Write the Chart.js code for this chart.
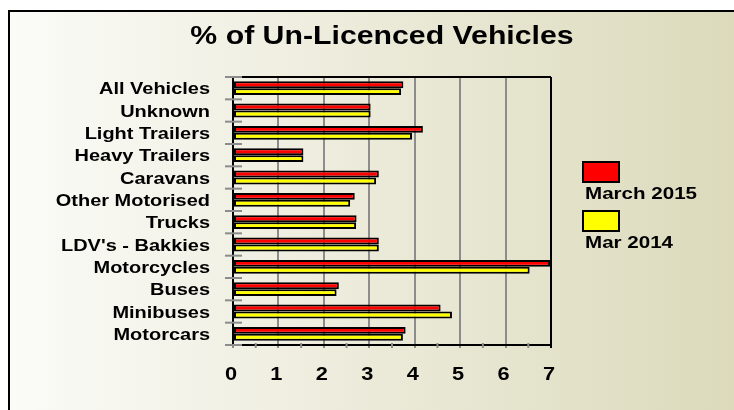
<!DOCTYPE html>
<html>
<head>
<meta charset="utf-8">
<script src="https://cdn.jsdelivr.net/npm/chart.js@4/dist/chart.umd.min.js"></script>
<style>
  html, body { margin: 0; padding: 0; background: #fff; }
  canvas { display: block; }
</style>
</head>
<body>
<canvas id="chartUnlicenced" width="734" height="410"></canvas>
<script>
(function () {
  const categories = ['All Vehicles', 'Unknown', 'Light Trailers', 'Heavy Trailers', 'Caravans', 'Other Motorised',
    'Trucks', "LDV's - Bakkies", 'Motorcycles', 'Buses', 'Minibuses', 'Motorcars'];
  const march2015 = [3.75, 3.03, 4.18, 1.55, 3.21, 2.68, 2.72, 3.21, 6.98, 2.33, 4.57, 3.80];
  const mar2014 = [3.70, 3.03, 3.94, 1.55, 3.15, 2.58, 2.71, 3.21, 6.53, 2.28, 4.82, 3.74];
  const xTicks = [0, 1, 2, 3, 4, 5, 6, 7];
  const seriesNames = ['March 2015', 'Mar 2014'];

  const fontFamily = '"Liberation Sans", Arial, sans-serif';
  const stretch = 1.21; // the reference text is wide

  function wideText(ctx, text, x, y, align, font) {
    ctx.save();
    ctx.font = font;
    ctx.fillStyle = '#000';
    ctx.textAlign = align;
    ctx.textBaseline = 'alphabetic';
    ctx.translate(x, y);
    ctx.scale(stretch, 1);
    ctx.fillText(text, 0, 0);
    ctx.restore();
  }

  const frame = {
    id: 'frame',
    beforeDraw(chart) {
      const ctx = chart.ctx;
      ctx.save();
      ctx.fillStyle = '#fff';
      ctx.fillRect(0, 0, chart.width, chart.height);
      const g = ctx.createLinearGradient(9, 0, chart.width, 0);
      g.addColorStop(0, '#fbfbf8');
      g.addColorStop(1, '#dcdabb');
      ctx.fillStyle = g;
      ctx.fillRect(9, 11, chart.width - 9, chart.height - 11);
      ctx.strokeStyle = '#000';
      ctx.lineWidth = 2;
      ctx.beginPath();
      ctx.moveTo(9, chart.height);
      ctx.lineTo(9, 11);
      ctx.lineTo(chart.width, 11);
      ctx.stroke();
      ctx.restore();
    },
    afterDraw(chart) {
      const ctx = chart.ctx;
      const area = chart.chartArea;
      const x = chart.scales.x;
      const y = chart.scales.y;
      ctx.save();
      // top border of the plot
      ctx.strokeStyle = '#000';
      ctx.lineWidth = 2;
      ctx.beginPath();
      ctx.moveTo(area.left, area.top);
      ctx.lineTo(area.right, area.top);
      ctx.stroke();

      // category separators on the value axis
      ctx.strokeStyle = '#8c8c8c';
      const band = (y.bottom - y.top) / categories.length;
      for (let i = 0; i <= categories.length; i++) {
        const py = y.top + i * band;
        ctx.beginPath();
        ctx.moveTo(area.left - 8, py);
        ctx.lineTo(area.left + 9, py);
        ctx.stroke();
      }
      // half-step ticks below the x axis
      for (let v = 0.5; v < 7; v += 1) {
        const px = x.getPixelForValue(v);
        ctx.beginPath();
        ctx.moveTo(px, area.bottom - 2);
        ctx.lineTo(px, area.bottom + 3);
        ctx.stroke();
      }
      ctx.restore();

      wideText(ctx, '% of Un-Licenced Vehicles', 382, 44, 'center', 'bold 25px ' + fontFamily);

      categories.forEach((c, i) => {
        wideText(ctx, c, area.left - 23, y.getPixelForTick(i) + 6, 'right', 'bold 16.5px ' + fontFamily);
      });
      xTicks.forEach(v => {
        wideText(ctx, String(v), x.getPixelForValue(v) - 2, 380, 'center', 'bold 18px ' + fontFamily);
      });

      // legend: box above its text
      const lx = area.right + 32;
      chart.data.datasets.forEach((ds, i) => {
        const top = 162 + i * 49;
        ctx.save();
        ctx.fillStyle = ds.backgroundColor;
        ctx.strokeStyle = '#000';
        ctx.lineWidth = 2;
        ctx.fillRect(lx, top, 36, 20);
        ctx.strokeRect(lx, top, 36, 20);
        ctx.restore();
        wideText(ctx, seriesNames[i], lx + 2, top + 37, 'left', 'bold 17px ' + fontFamily);
      });
    },
  };

  new Chart(document.getElementById('chartUnlicenced'), {
    type: 'bar',
    data: {
      labels: categories,
      datasets: [
        { label: seriesNames[0], data: march2015, backgroundColor: '#ff0000', borderColor: '#000', borderWidth: 2, borderSkipped: false },
        { label: seriesNames[1], data: mar2014, backgroundColor: '#ffff00', borderColor: '#000', borderWidth: 2, borderSkipped: false },
      ],
    },
    options: {
      indexAxis: 'y',
      responsive: false,
      animation: false,
      devicePixelRatio: 1,
      layout: { padding: { left: 0, right: 183, top: 77, bottom: 0 } },
      datasets: { bar: { categoryPercentage: 0.62, barPercentage: 1.0 } },
      plugins: { legend: { display: false }, title: { display: false }, tooltip: { enabled: false } },
      scales: {
        x: {
          min: 0,
          max: 7,
          ticks: { stepSize: 1, display: false },
          grid: {
            color: c => (c.tick && c.tick.value === 7 ? '#000' : '#8c8c8c'),
            lineWidth: 2,
            drawTicks: true,
            tickLength: 3,
          },
          border: { color: '#000', width: 2 },
          afterFit: s => { s.height = 65; },
        },
        y: {
          ticks: { display: false },
          grid: { display: false },
          border: { color: '#000', width: 2 },
          afterFit: s => { s.width = 233; },
        },
      },
    },
    plugins: [frame],
  });
})();
</script>
</body>
</html>
